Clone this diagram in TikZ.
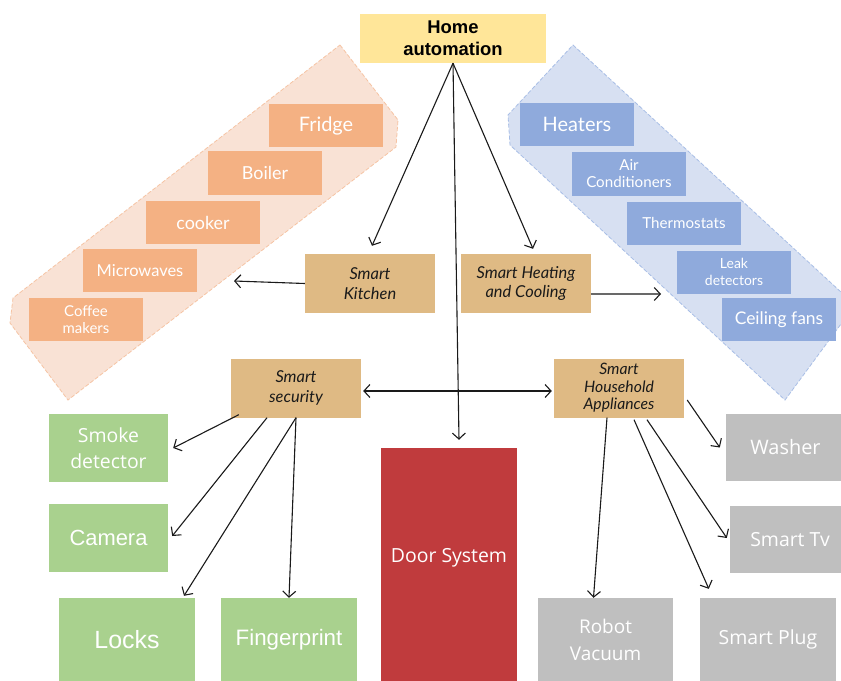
\documentclass[tikz,border=0pt]{standalone}
\usepackage{fontspec}
\setmainfont{Liberation Sans}
\newfontfamily\dmfont{Lato}
\newfontfamily\osfont{Open Sans}
\usetikzlibrary{arrows.meta}
\definecolor{ink}{HTML}{1A1A1A}
\definecolor{butter}{HTML}{FFE699}
\definecolor{peach}{HTML}{F4B183}
\definecolor{peachband}{HTML}{F9E2D5}
\definecolor{peachline}{HTML}{F6C4A4}
\definecolor{cornflower}{HTML}{8FAADC}
\definecolor{skyband}{HTML}{D7E0F2}
\definecolor{skyline}{HTML}{A8BEE6}
\definecolor{sand}{HTML}{DFBA84}
\definecolor{leaf}{HTML}{A9D18E}
\definecolor{brick}{HTML}{C03B3D}
\definecolor{stone}{HTML}{BFBFBF}
\tikzset{
  kitchenitem/.style={box,fill=peach,minimum width=114bp,minimum height=43bp,font=\dmfont\fontsize{#1}{17}\selectfont},
  climateitem/.style={box,fill=cornflower,minimum width=114bp,minimum height=43bp,font=\dmfont\fontsize{#1}{17}\selectfont},
  guard/.style={box,fill=leaf,font=\fontsize{#1}{26.5}\selectfont},
  device/.style={box,fill=stone,font=\osfont\fontsize{#1}{27}\selectfont}
}

\begin{document}
\begin{tikzpicture}[x=1bp,y=-1bp,>={Straight Barb[length=6bp,width=13bp]}]
  \tikzstyle{box}=[inner sep=0pt,align=center,text=white]
  \tikzstyle{top}=[box,fill=butter,text=black,minimum width=186bp,minimum height=49bp,font=\bfseries\fontsize{18.5}{22}\selectfont]
  \tikzstyle{hub}=[box,fill=sand,text=ink,minimum width=130bp,minimum height=59bp,font=\dmfont\itshape\fontsize{16.5}{19.5}\selectfont]
  \tikzstyle{band}=[line width=0.8bp,dash pattern=on 4bp off 2bp]
  \tikzstyle{link}=[draw=ink,line width=1.1bp]
  \useasboundingbox[fill=white] (0,0) rectangle (841,681);

  \filldraw[band,fill=peachband,draw=peachline] (340,45) -- (398,120) -- (396,147) -- (68,400) -- (10,323) -- (13,298) -- cycle;
  \filldraw[band,fill=skyband,draw=skyline] (573,45) -- (855,305) -- (785,400) -- (510,145) -- (508,115) -- cycle;

  \node[top] (home) at (453,38.5) {Home\\automation};

  \node[kitchenitem=20] (fridge) at (326,125.5) {Fridge};
  \node[kitchenitem=18] (boiler) at (265,173) {Boiler};
  \node[kitchenitem=18] (cooker) at (203,222.5) {cooker};
  \node[kitchenitem=16.5] (micro) at (140,270.5) {Microwaves};
  \node[kitchenitem=15] (coffee) at (86,319.5) {Coffee\\makers};

  \node[climateitem=20] (heaters) at (577,124.5) {Heaters};
  \node[climateitem=15.2] (aircon) at (629,174) {Air\\Conditioners};
  \node[climateitem=15.2] (thermo) at (684,223) {Thermostats};
  \node[climateitem=14] (leak) at (734,272) {Leak\\detectors};
  \node[climateitem=17.5] (fans) at (779,319.5) {Ceiling fans};

  \node[hub] (kitchen) at (370,283.5) {Smart\\Kitchen};
  \node[hub] (heating) at (526,283.5) {Smart Heating\\and Cooling};
  \node[hub] (security) at (296,388) {Smart\\security};
  \node[hub,font=\dmfont\itshape\fontsize{15.8}{17.7}\selectfont] (household) at (619,388) {Smart\\Household\\Appliances};

  \node[guard=19.5,font=\osfont\fontsize{19.5}{26.5}\selectfont,minimum width=119bp,minimum height=68bp] (smoke) at (108.5,448) {Smoke\\detector};
  \node[guard=22,minimum width=119bp,minimum height=68bp] (camera) at (108.5,538) {Camera};
  \node[guard=25,minimum width=136bp,minimum height=83bp] (locks) at (127,639.5) {Locks};
  \node[guard=22.4,minimum width=136bp,minimum height=83bp] (finger) at (289,639.5) {Fingerprint};

  \node[box,fill=brick,minimum width=136bp,minimum height=233bp,font=\osfont\fontsize{19.5}{23}\selectfont] (door) at (449,564.5) {\raisebox{19bp}{Door System}};

  \node[device=20,minimum width=119bp,minimum height=67bp] (washer) at (785.5,447.5) {Washer};
  \node[device=19.5,minimum width=120bp,minimum height=67bp] (tv) at (790,539.5) {Smart Tv};
  \node[device=19,minimum width=135bp,minimum height=83bp] (robot) at (605.5,639.5) {Robot\\Vacuum};
  \node[device=19.5,minimum width=136bp,minimum height=83bp] (plug) at (768,639.5) {Smart Plug};

  \coordinate (kband) at (234,281);
  \coordinate (hband) at (661,294);

  \draw[link,->] (home.south) -- ([xshift=2bp,yshift=8bp]kitchen.north);
  \draw[link,->] (home.south) -- ([xshift=7bp,yshift=5bp]heating.north);
  \draw[link,->] (home.south) -- ([xshift=10bp,yshift=8bp]door.north);
  \draw[link,->] (kitchen.west) -- (kband);
  \draw[link,->] ([yshift=-10.5bp]heating.east) -- (hband);
  \draw[link,<->] ([xshift=2bp,yshift=-3bp]security.east) -- ([xshift=-2bp,yshift=-3bp]household.west);
  \draw[link,->] ([xshift=8bp,yshift=3bp]security.south west) -- ([xshift=5bp]smoke.east);
  \draw[link,->] ([xshift=-29bp]security.south) -- ([xshift=4bp,yshift=2bp]camera.east);
  \draw[link,->] (security.south) -- ([xshift=57bp,yshift=2bp]locks.north);
  \draw[link,->] (security.south) -- (finger.north);
  \draw[link,->] ([xshift=-12bp]household.south) -- ([xshift=-12bp]robot.north);
  \draw[link,->] ([xshift=15bp,yshift=-2bp]household.south) -- ([xshift=9bp,yshift=9bp]plug.north west);
  \draw[link,->] ([xshift=28bp,yshift=-2bp]household.south) -- ([xshift=-3bp,yshift=1.5bp]tv.west);
  \draw[link,->] ([xshift=3bp,yshift=-12bp]household.east) -- ([xshift=-6bp]washer.west);
\end{tikzpicture}
\end{document}
